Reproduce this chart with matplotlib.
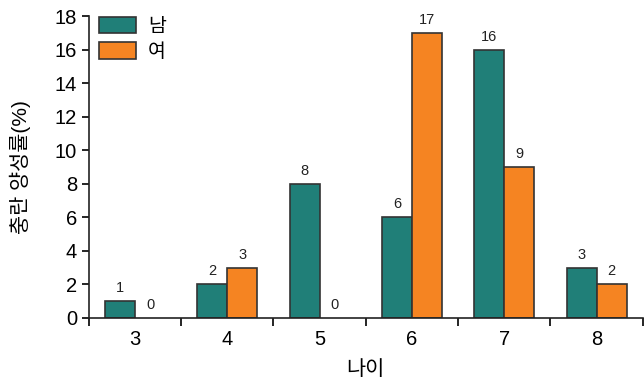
import numpy as np
import matplotlib.pyplot as plt

plt.rcParams['font.family'] = ['Liberation Sans', 'Noto Sans CJK KR']

ages = ['3', '4', '5', '6', '7', '8']
male = [1, 2, 8, 6, 16, 3]
female = [0, 3, 0, 17, 9, 2]
series_names = ['남', '여']
colors = ['#207f78', '#f58422']

fig = plt.figure(figsize=(6.44, 3.82), dpi=100)
ax = fig.add_axes([0.138, 0.168, 0.860, 0.790])

x = np.arange(len(ages))
w = 0.325
for i, (vals, name, col) in enumerate(zip([male, female], series_names, colors)):
    pos = x + (i - 0.5) * w
    # zero-height bars get no outline
    lws = [1.2 if v > 0 else 0 for v in vals]
    ax.bar(pos, vals, w, color=col, edgecolor='#333333', linewidth=lws, label=name)
    for xp, v in zip(pos, vals):
        ax.text(xp, v + 0.35, str(v), ha='center', va='bottom', fontsize=10.5, color='#222222')

ax.set_xlim(-0.5, len(ages) - 0.5)
ax.set_ylim(0, 18)
ax.set_yticks(range(0, 19, 2))
ax.set_xticks(x)
ax.set_xticklabels(ages)
ax.set_xticks(np.arange(-0.5, len(ages)), minor=True)
ax.tick_params(axis='x', which='major', length=0, labelsize=14.5, pad=9)
ax.tick_params(axis='x', which='minor', length=6, width=1.2, direction='out')
ax.tick_params(axis='y', labelsize=14.5, length=5, width=1.2)
for s in ['top', 'right']:
    ax.spines[s].set_visible(False)
for s in ['left', 'bottom']:
    ax.spines[s].set_linewidth(1.2)
    ax.spines[s].set_color('#222222')

ax.set_xlabel('나이', fontsize=15, labelpad=8)
ax.set_ylabel('충란 양성률(%)', fontsize=15, labelpad=17)
leg = ax.legend(loc='upper left', frameon=False, fontsize=14, handlelength=1.9,
                handleheight=0.9, handletextpad=0.6, borderaxespad=0.0, borderpad=0.2,
                labelspacing=0.35, bbox_to_anchor=(0.012, 1.01))
for p in leg.get_patches():
    p.set_linewidth(1.2)

fig.savefig('out.png', dpi=100)
